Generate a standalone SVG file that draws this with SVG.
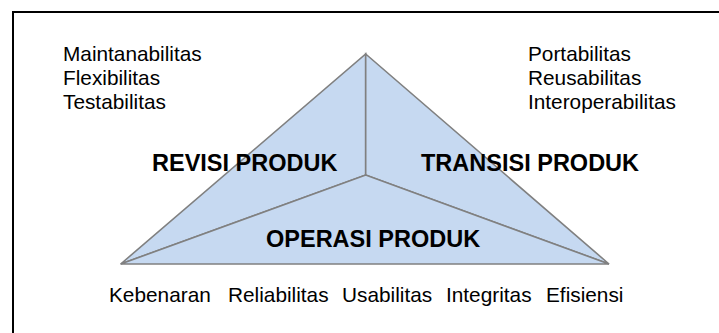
<svg xmlns="http://www.w3.org/2000/svg" width="719" height="333" viewBox="0 0 719 333">
<style>
.seg{fill:#C6D9F1;stroke:#808080;stroke-width:1.6;stroke-linejoin:miter}
.lbl{font-family:"Liberation Sans",Arial,sans-serif;font-size:23.5px;font-weight:bold;fill:#000}
.attr{font-family:"Liberation Sans",Arial,sans-serif;font-size:20.8px;fill:#000}
</style>
<rect width="719" height="333" fill="#fff"/>
<path d="M13,340 V12 H730" fill="none" stroke="#000" stroke-width="2"/>
<g id="revisi-produk">
<polygon class="seg" points="365.7,54 365.7,175 120.7,264"/>
</g>
<g id="transisi-produk">
<polygon class="seg" points="365.7,54 609,264 365.7,175"/>
</g>
<g id="operasi-produk">
<polygon class="seg" points="120.7,264 365.7,175 609,264"/>
</g>
<g id="labels">
<text class="lbl" x="152" y="171">REVISI PRODUK</text>
<text class="lbl" x="421" y="171">TRANSISI PRODUK</text>
<text class="lbl" x="266" y="247">OPERASI PRODUK</text>
</g>
<g id="revisi-attrs" class="attr">
<text x="63" y="61">Maintanabilitas</text>
<text x="63" y="85">Flexibilitas</text>
<text x="63" y="109">Testabilitas</text>
</g>
<g id="transisi-attrs" class="attr">
<text x="528" y="61">Portabilitas</text>
<text x="528" y="85">Reusabilitas</text>
<text x="528" y="109">Interoperabilitas</text>
</g>
<g id="operasi-attrs" class="attr">
<text x="109" y="302">Kebenaran</text>
<text x="228" y="302">Reliabilitas</text>
<text x="342" y="302">Usabilitas</text>
<text x="446" y="302">Integritas</text>
<text x="546" y="302">Efisiensi</text>
</g>
</svg>
